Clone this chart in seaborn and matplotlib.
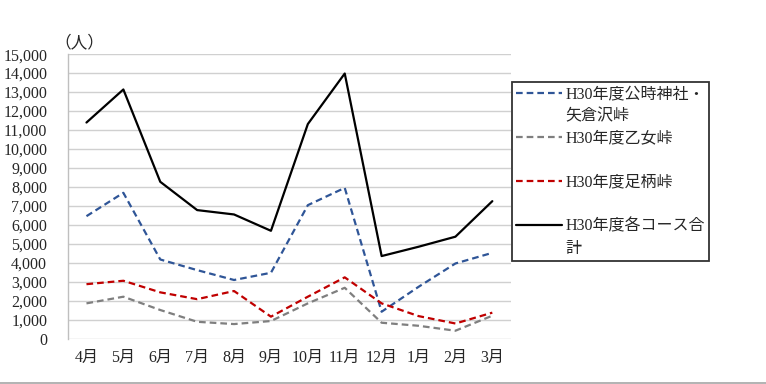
import pandas as pd
import matplotlib
import matplotlib.pyplot as plt
from matplotlib.lines import Line2D
import seaborn as sns

sns.set_style('white')
matplotlib.rcParams['font.family'] = ['Liberation Serif', 'Noto Sans CJK JP']
matplotlib.rcParams['axes.unicode_minus'] = False

months = ['4月', '5月', '6月', '7月', '8月', '9月', '10月', '11月', '12月', '1月', '2月', '3月']
kintoki = [6470, 7700, 4190, 3630, 3110, 3490, 7050, 7960, 1440, 2750, 3980, 4540]
otome = [1880, 2230, 1530, 910, 790, 950, 1880, 2700, 860, 700, 440, 1230]
ashigara = [2890, 3070, 2460, 2100, 2530, 1180, 2230, 3250, 1880, 1210, 820, 1390]
total = [11400, 13140, 8280, 6790, 6560, 5700, 11320, 13980, 4370, 4860, 5390, 7260]

labels = ['H30年度公時神社・', 'H30年度乙女峠', 'H30年度足柄峠', 'H30年度各コース合']
colors = ['#2F5597', '#7F7F7F', '#C00000', '#000000']

fig = plt.figure(figsize=(7.66, 3.84), dpi=100)
ax = fig.add_axes([0.0888, 0.117, 0.578, 0.742])

series = [kintoki, otome, ashigara, total]
handles = []
for vals, lab, col in zip(series, labels, colors):
    df = pd.DataFrame({'month': months, 'value': vals})
    sns.lineplot(data=df, x='month', y='value', ax=ax, color=col, linewidth=1.6, sort=False)
    ln = ax.get_lines()[-1]
    if col != '#000000':
        ln.set_dashes((3, 1.8))
    handles.append(ln)

ax.set_xlim(-0.5, 11.5)
ax.set_ylim(0, 15000)
ax.set_yticks(range(0, 15001, 1000))
ax.set_yticklabels([f'{v:,}' for v in range(0, 15001, 1000)])
ax.set_xlabel('')
ax.set_ylabel('')
ax.yaxis.grid(True, color='#D0D0D0', linewidth=1.0)
ax.set_axisbelow(True)
for s in ['top', 'right', 'bottom']:
    ax.spines[s].set_visible(False)
ax.spines['left'].set_color('#BFBFBF')
ax.spines['left'].set_linewidth(1.0)
ax.tick_params(axis='y', length=0, pad=15, labelsize=11.5)
ax.tick_params(axis='x', length=0, pad=8, labelsize=11.5)

ax.annotate('（人）', xy=(0, 1), xycoords='axes fraction', xytext=(-10, 2),
            textcoords='offset points', fontsize=12, ha='left', va='bottom')

blank = Line2D([], [], color='none')
leg_handles = [handles[0], blank, handles[1], blank, handles[2], blank, handles[3], blank]
leg_labels = [labels[0], '矢倉沢峠', labels[1], ' ', labels[2], ' ', labels[3], '計']
leg = fig.legend(leg_handles, leg_labels, loc='upper left', bbox_to_anchor=(0.668, 0.786),
                 frameon=True, fancybox=False, fontsize=11.5, handlelength=2.9,
                 handletextpad=0.2, labelspacing=0.38, borderpad=0.25, borderaxespad=0)
leg.get_frame().set_edgecolor('black')
leg.get_frame().set_linewidth(1.3)

fig.add_artist(Line2D([0, 1], [0.003, 0.003], transform=fig.transFigure, color='#A6A6A6', linewidth=1.2))

fig.savefig('out.png', dpi=100)
